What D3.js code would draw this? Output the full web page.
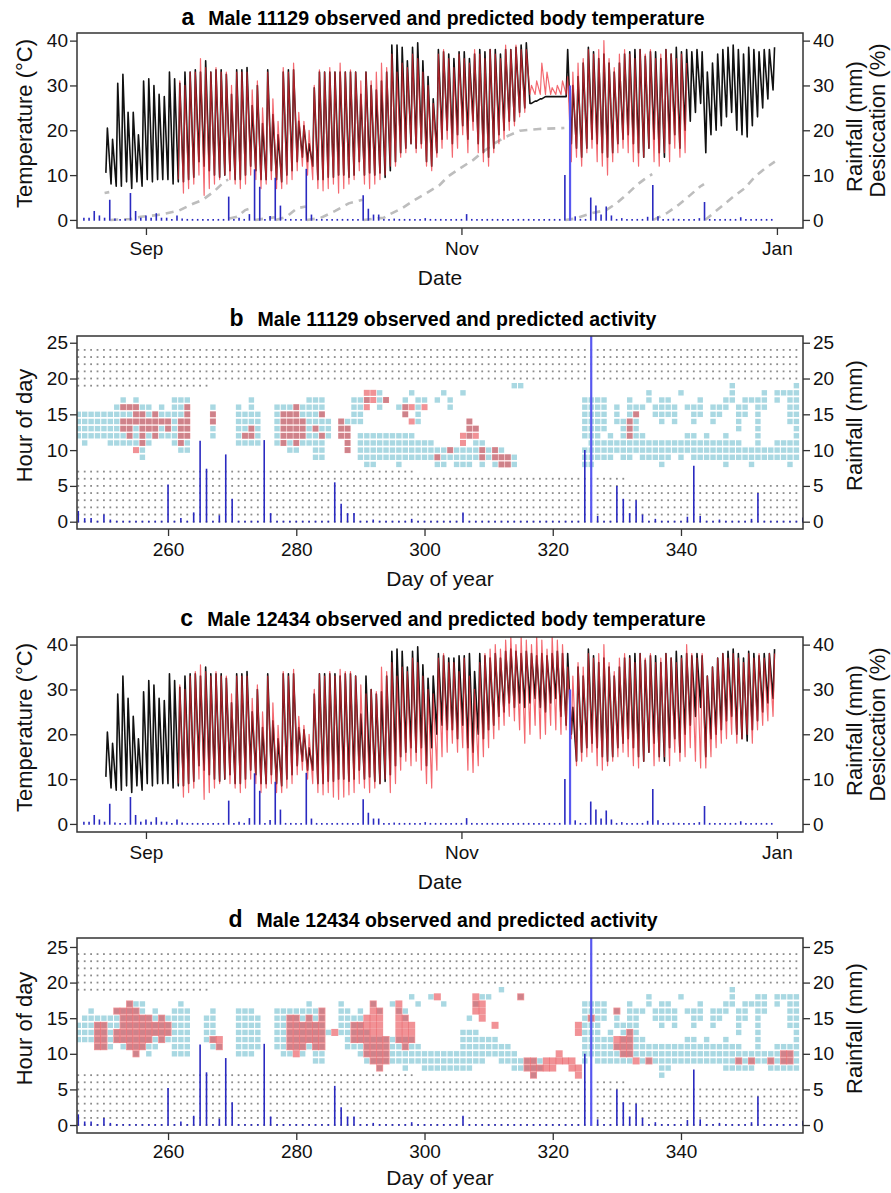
<!DOCTYPE html>
<html>
<head>
<meta charset="utf-8">
<script src="https://cdn.jsdelivr.net/npm/d3@7"></script>
<style>
body { margin: 0; background: #fff; }
svg { font-family: "Liberation Sans", Arial, sans-serif; }
</style>
</head>
<body>
<div id="chart"></div>
<script>
// ---- body temperature, one value per day from Aug 24 (day 236) to Dec 31 (day 365)
const tempStartDay = 236;

const obsMaxA = [20.5,18,30.5,32.5,24,24,19,31,31.5,30, 28,27.5,33,31.5,30.5,33,33,33.5,33,35.5,
  33,33.5,33.5,32.5,28,33.5,33.5,34,25.5,30, 21.5,33.5,23.5,19,33,33.5,33.5,22,21,17,
  29.5,33,33,33,33,33,33,33,33,28, 33,30,29,31,33,39,39,38.5,35.5,38.5,
  39.5,35.5,32,27,38,37.5,37,36,37.5,37.5, 36,37,38,37.5,38,38,37,38,38,38.5,
  39,39.5,26,26.5,27,27.5,27.5,27.5,27.5,38, 30,32,35,38.5,37.5,36,37,35,33,35,
  37,37.5,38,38,36.5,37.5,37.5,36,38,37, 38.5,37.5,38,37.5,38,37.5,33,35,37,38,
  38.5,39,38,37,38.5,38,37.5,38,38,38.5];
const obsMinA = [10.5,8,7.5,7.5,8.5,7,8.5,7.5,9,8.5, 9,9,9,8,8.5,8.5,9,9.5,13,12,
  11,10,9.5,10,11,9,9,10,12,11, 9,9,11,9,8.5,10,11,13,14,13,
  12,9,9,9.5,9.5,10,10,9.5,10,13, 10,10.5,10,10.5,9.5,11,13,15,16,17,
  16,17,13,12,15,18,20,17,19,21, 18,22,17,15,14,16,19,20,22,22,
  24,25,26,26.5,27,27.5,27.5,27.5,27.5,27.5, 17,16,14,16,18,17,15,14,15,17,
  18,19,17,15,14,16,18,15,14,17, 19,16,20,22,24,26,15,19,20,21,
  23,24,20,19,18.5,21,23,25,27,29];
const predMaxA = [null,null,null,null,null,null,null,null,null,null, null,null,null,null,31,30,33,33,36,34,
  33,34,33,33,30,33,33,33,29,31, 25,33,27,22,34,33,35,24,22,20,
  30,33.5,33,34,33,35,33,33.5,33,31, 33,31,33,35,34,37,33,35,34,37,
  36,33,30,26,37,38,36,34,37,36, 35,38,37,36,38,37,36,39,38,39,
  38,38,30,31,35,33,29.5,30,31,32, 33,35,36,38,37,38,40,36,34,37,
  38,37,36,38,37,38,36,37,38,37, 36,37,35];
const predMinA = [null,null,null,null,null,null,null,null,null,null, null,null,null,null,9,6,7,8,10,5.5,
  7,8,9,10,9,8,7,8,10,9, 7,8,9,7,7,8,9,11,12,10,
  9,7,6.5,7,8,6,7,8,9,11, 8,7,8,9,10,12,12,14,15,17,
  15,16,12,11,14,16,18,14,16,19, 15,20,15,13,12,15,17,18,20,21,
  23,24,28,28,28,28,28,28,28,28, 13,14,12,15,16,13,12,10,13,15,
  16,15,13,12,14,16,13,12,15,13, 16,14,15];

const obsMaxC = [20.5,18,29,33,28,24,19,29.5,32,31, 28,27.5,33.5,32,30.5,33,33.5,33.5,33,35,
  33.5,33.5,33.5,32.5,27,33.5,33.5,34,25,30, 21.5,33.5,23,19,33.5,33.5,33.5,21.5,21,17,
  29,33.5,33.5,33.5,33.5,33,33.5,33.5,33,24.5, 33,30,29,29.5,33,38.5,39,38.5,35,38.5,
  39.5,35.5,32.5,33,38,37.5,37,37,37.5,37.5, 38,34,38,37.5,37,38,37,38.5,39,38.5,
  38,38.5,38,37.5,38,37.5,38,38.5,38,38, 26,35,33,39,37.5,36,37,35,33,35,
  37,37.5,38,38,36.5,37.5,37.5,36,38,37, 38.5,37.5,38,37.5,38,37.5,33,35,37,38,
  38.5,39,38,37,38.5,38,37.5,38,38,39];
const obsMinC = [10.5,8,7.5,7.5,8.5,7,8.5,7.5,9,8.5, 9,9,9,8,8.5,8.5,9,9.5,13,12,
  11,10,9.5,10,11,9,9,10,12,11, 9,9,11,9,8.5,10,11,13,14,12,
  12,9,9,9.5,9.5,10,10,9.5,10,12, 10,10.5,9.5,9,9.5,11,13,15,16,17,
  16,17,13,17,20,22,21,21,19,22, 17,16,20,19,21,22,24,25,27,26,
  27,26,27,28,26,25,27,28,24,22, 20,14,16,17,18,17,15,14,15,17,
  18,19,17,15,14,16,18,15,14,17, 19,16,20,22,24,26,15,19,20,21,
  23,24,20,19,18.5,21,23,25,27,28];
const predMaxC = [null,null,null,null,null,null,null,null,null,null, null,null,null,null,31,30,33,34,35.5,34,
  33,34,33,33,29,33,33,33,28,31, 25,33,27,22,34,33,34.5,24,22,20,
  30,33.5,33,34,33,34.5,34,34,33,31, 29,30,29.5,35,34,36,33,35,34,37,
  36,33,30,29,37,38,36,36,34,37, 33,30,36,38,39,40,39,41,42,40,
  42,41,40,42,41,39,42,41,40,35, 33,36,35,38,37,38,40,36,34,37,
  38,37,36,38,37,38,36,37,38,37, 36,37,40,38,37,38,33,35,37,38,
  37,38,37,36,38,37,38,37,38,38];
const predMinC = [null,null,null,null,null,null,null,null,null,null, null,null,null,null,9,6,7,8,10,5.5,
  7,8,9,10,9,8,7,8,10,9, 7,8,9,7,7,8,9,11,12,10,
  9,7,6.5,7,6,5.5,6,6.5,7,9, 8,7,8,9,10,7,9,12,14,13,
  14,12,9,8,12,15,16,18,16,17, 12,11.5,13,15,17,19,21,22,24,23,
  21,18,20,22,19,20,22,21,20,21, 19,13,14,15,16,13,12,13,14,15,
  16,15,13,12.5,14,16,13,14,15,13, 16,14,15,17,14,12.5,12.5,15,17,18,
  19,20,18,19,20,18,21,22,23,24];

// ---- rainfall (mm) by day of year; other days from 232 to 365 had none
const rainDay = [232,233,234,235,236,237,238,241,242,243,244,245,246,247,248,250,251,260,262,264,265,266,268,269,270,
  275,276,286,287,288,289,292,298,306,325,326,327,330,331,332,333,334,336,341,342,343,346,351,352,359];
const rainMm = [0.5,0.5,2,1,0.5,4.5,0.3,6,2,0.5,1,0.5,1.5,0.5,0.5,1,0.3,5.2,0.5,1.3,11.3,7.4,0.9,9.4,3.2,
  11.4,1.2,5.5,2.5,1.2,1.2,0.3,0.4,1.3,10,30,0.8,5,3.2,1.2,3,1,0.4,0.7,7.8,0.8,0.3,0.4,4,0.6];
const rainFirstDay = 232, rainLastDay = 365;

// ---- desiccation (%) of male 11129, null marks a reset by rain
const desicDay = [236,236.9,237,237.1,241,243,246.3,250.2,253.1,255,257.3,259.2,259.9,260,260.1,261.6,263.2,264.9,265,
  265.1,267.8,268.9,269,269.1,271.2,273.2,274.9,275,275.1,277.7,280.6,283.2,285.9,286,286.1,290,291.2,293.5,296,298.3,
  300.8,302.4,304.7,307.3,309.2,311.4,313.7,316.3,320,324.9,325,325.1,327,330.2,333,335,336.9,338.9,341.1,341.9,342,
  342.1,344.7,346.9,348.9,351.1,351.9,352,352.1,353.7,355.6,357.6,359.8,361.8,363.7,365.6];
const desicPct = [6,6.2,null,0,0.2,0.7,1.1,2,3.6,4.5,6.5,8.6,9,null,0.3,0.7,2.2,2.8,null,
  0,0.4,0.6,null,0,0.7,2.6,3,null,0,0.4,2,3.7,4.5,null,0,0.5,1.3,2.6,4.5,6,
  7.8,9.7,11.5,13.4,15.2,17.1,18.6,19.9,20.3,20.5,null,0,0.3,1.5,2.2,3.7,5.6,7.8,9.7,10.2,null,
  0,1.5,3.3,5.2,7.4,8,null,0,1.5,3.3,5.2,7.1,9.7,11.5,13];

// ---- activity: active hours per day of year, from day 246 to 358
const actStartDay = 246;
const nightHours = [0,1,2,3,4,5,6,7,19,20,21,22,23,24];
const nightLastDay = [358,358,358,358,358,358,331,298,266,358,358,358,358,358];

const obsB = ["12-15","11-15","12-15","12-15","12-15","11-15","11-16","11-17","11-16","11-17",
  "9-16","11-16","12-15","12-16","12-15","11-17","10-17","10-17","","",
  "","12-16","","","","11-16","11-15","11-17","11-15","",
  "","11-16","11-16","10-16","10-16","11-16","11-17","9-17","9-17","12-14",
  "","12-14","10-14","14-17","9-12,14-17","8-12,17","8-12","9-12,16-18","9-12,17","9-12",
  "8-12,16","9-12,15-17","9-12,18","9-11,14-17","9-11,17","9-11","8-10,17","8-10,18","9-10,16-17","8-10",
  "8-10,18","8-10,12-14","9-11,13","8-11","9-10","8-10","8-10","8-9","8-9,19","19",
  "","","","","","","","","",
  "8-10,12-17","8-17","9-17","9-11,13-17","9-12","10-11,14-16","9-14","9-17","10-16","9-12,16",
  "9-11,17-18","9-11,15-16","8-11,14-17","9-11,15-17","10-11,14-16","9-11,18","10-12,16","9-12,14-16","9-11,15-17","9-12",
  "9-11,14-16","9-11,15-16","8-12,16-17","9-11,17-19","9-11,13-16","9-10,15-17","8-10,17","9-11,12-17","9-10,16-18","9-10",
  "9-11,17-18","9-11,18","8-11,14-18","9-11,12-19"];
const predBDay = [253,254,255,256,257,258,259,260,262,263,267,272,273,278,279,280,281,283,284,287,288,
  291,292,294,297,298,300,302,304,306,307,308,309,311,312,313,332,333];
const predBHrs = ["13-14,16","12-14,16","10,14-16","11-15","13-14","12-15","14","13-14","11-14","12-16","14-15","12","12-13",
  "11-15","12-15","11-16","12-14","13","12,15","12-14","10-13",
  "16-18","17-18","17","15-16","14,16","16","9","10","11-12","12-14","12-13","9-10","9-10","8-9","8-9","12-14","15"];

const obsD = ["12-14","12-15","12-16","11-15","11-15","11-15","12-16","11-16","11-17","10-17",
  "11-17","10-15","11-16","12-15","12-15","10-16","10-17","10-16","","",
  "12-15","11-16","11","","","10-16","10-16","10-16","11-15","",
  "","11-16","10-16","10-16","11-16","10-16","11-17","9-16","9-16","13",
  "","13-17","11-16","11-15","10-16","9-13","9-12,17","8-12,16","9-12","9-12,17",
  "9-12,16","8-12,15-16","9-12,18","9-11,17","8-10","8-10,18","8-10","8-10,17","8-10","8-10",
  "8-13","8-13,15","9-13,17","9-12,18","10-12,18","10-12","9-11,19","9-11","8-10","8-9,18",
  "8-9","7-9","8-9","","","","","","",
  "9-17","10-17","9-17","9-12,15-17","9-13","9-11,14-16","9-14","9-17","10-16","9-12,16",
  "9-11,17-18","9-11,15-16","7-11,14-17","8-11,15-17","9-11,14-16","9-11,18","9-12,16","9-12,14-16","9-11,15-17","9-12",
  "9-11,14-16","9-11,15-16","8-12,16-17","8-11,17-19","8-11,13-16","8-10,15-17","8-10,17","9-11,12-18","9-10,16-18","8-10",
  "8-11,17-18","8-11,18","8-11,14-18","8-11,12-18"];
const predDDay = [249,250,252,253,254,255,256,257,258,259,260,267,268,279,280,281,282,283,284,286,289,290,291,292,293,294,
  296,297,298,302,308,309,311,315,316,317,318,319,320,321,322,323,324,326,330,331,332,333,335,349,351,354,356,357];
const predDHrs = ["11-14","11-14","12-13,16","12-16","11-17","10-16","11-15","12-15","13-14","12-15","13-14","12","11-12",
  "11-15","10-15","11-14","12-15","11-14","11-16","13","12-14","12-14","10-15","9-17","8-16","9-12",
  "12-17","11-15","12-14","18","16-18","15-17","14","18","8-9","7-9","8","8-9","8-9","9-10","9","8-9","7-8,13-14",
  "15","11-12,16","10-12","10-13","9","9","9","9","9","9-10","9-10"];

// ---------------------------------------------------------------------
const W = 891, H = 1193;
const left = 77, right = 803;
const boxColor = "#333";

const svg = d3.select("#chart").append("svg")
  .attr("width", W)
  .attr("height", H);

function dayToDate(d) { return new Date(Date.UTC(2014, 0, 1) + (d - 1) * 864e5); }

function parseHours(s) {
  const out = [];
  if (!s) return out;
  s.split(",").forEach(part => {
    const [a, b] = part.split("-").map(Number);
    for (let h = a; h <= (b === undefined ? a : b); h++) out.push(h);
  });
  return out;
}

function dailyPoints(maxArr, minArr) {
  const pts = [];
  maxArr.forEach((mx, i) => {
    if (mx == null) return;
    const d0 = tempStartDay + i;
    pts.push({ t: dayToDate(d0 + 6 / 24), v: minArr[i] });
    pts.push({ t: dayToDate(d0 + 13 / 24), v: mx });
  });
  return pts;
}

function panelTitle(g, yBase, letter, text) {
  g.append("text")
    .attr("x", 443)
    .attr("y", yBase)
    .attr("text-anchor", "middle")
    .attr("font-weight", "bold")
    .call(t => {
      t.append("tspan").attr("font-size", 23).text(letter);
      t.append("tspan").attr("font-size", 19.5).attr("dx", 14).text(text);
    });
}

function styleAxis(sel) {
  sel.select(".domain").remove();
  sel.selectAll(".tick line").attr("stroke", boxColor).attr("stroke-width", 1.3);
  sel.selectAll(".tick text").attr("font-size", 19).attr("fill", "#111");
}

function yTitle(g, x, yc, text) {
  g.append("text")
    .attr("transform", "translate(" + x + "," + yc + ") rotate(-90)")
    .attr("text-anchor", "middle")
    .attr("font-size", 22)
    .attr("fill", "#111")
    .text(text);
}

function rainBars(g, x, y, clipId) {
  const rainData = d3.range(rainFirstDay, rainLastDay + 1).map(d => {
    const k = rainDay.indexOf(d);
    return { day: d, mm: k < 0 ? 0 : rainMm[k] };
  });
  g.append("g")
    .attr("clip-path", "url(#" + clipId + ")")
    .selectAll("line")
    .data(rainData)
    .join("line")
    .attr("x1", d => x(d.day))
    .attr("x2", d => x(d.day))
    .attr("y1", y(0) + 0.8)
    .attr("y2", d => Math.min(y(d.mm), y(0) - 1))
    .attr("stroke", d => d.mm > 20 ? "#5858f0" : "#2a2ac0")
    .attr("stroke-width", d => d.mm > 20 ? 2.2 : 1.6);
}

// ---- temperature panels (a, c)
function tempPanel(o) {
  const g = svg.append("g");
  const x = d3.scaleUtc()
    .domain([new Date(Date.UTC(2014, 7, 18, 16)), new Date(Date.UTC(2015, 0, 6, 1))])
    .range([left, right]);
  const xd = d => x(dayToDate(d));
  const y = d3.scaleLinear().domain([-1.8, 41.7]).range([o.bottom, o.top]);

  const clipId = "clip" + o.letter;
  svg.append("clipPath").attr("id", clipId)
    .append("rect").attr("x", left).attr("y", o.top).attr("width", right - left).attr("height", o.bottom - o.top);

  const line = d3.line().x(d => x(d.t)).y(d => y(d.v));
  const plot = g.append("g").attr("clip-path", "url(#" + clipId + ")");

  if (o.desic) {
    const dz = desicDay.map((d, i) => ({ day: d, v: desicPct[i] }));
    plot.append("path")
      .attr("d", d3.line().defined(d => d.v != null).x(d => xd(d.day)).y(d => y(d.v))(dz))
      .attr("fill", "none")
      .attr("stroke", "#bdbdbd")
      .attr("stroke-width", 2.6)
      .attr("stroke-dasharray", "8,6");
  }

  plot.append("path")
    .attr("d", line(dailyPoints(o.obsMax, o.obsMin)))
    .attr("fill", "none")
    .attr("stroke", "#111")
    .attr("stroke-width", 1.6)
    .attr("stroke-linejoin", "round");

  plot.append("path")
    .attr("d", line(dailyPoints(o.predMax, o.predMin)))
    .attr("fill", "none")
    .attr("stroke", "#ee2a33")
    .attr("stroke-width", 1.2)
    .attr("stroke-opacity", 0.7)
    .attr("stroke-linejoin", "round");

  rainBars(g, xd, y, clipId);

  // box
  g.append("rect")
    .attr("x", left).attr("y", o.top)
    .attr("width", right - left).attr("height", o.bottom - o.top)
    .attr("fill", "none").attr("stroke", boxColor).attr("stroke-width", 1.5);

  g.append("g").attr("transform", "translate(" + left + ",0)")
    .call(d3.axisLeft(y).tickValues([0, 10, 20, 30, 40]).tickSize(7).tickPadding(2))
    .call(styleAxis);
  g.append("g").attr("transform", "translate(" + right + ",0)")
    .call(d3.axisRight(y).tickValues([0, 10, 20, 30, 40]).tickSize(7).tickPadding(3))
    .call(styleAxis);
  g.append("g").attr("transform", "translate(0," + o.bottom + ")")
    .call(d3.axisBottom(x)
      .tickValues([new Date(Date.UTC(2014, 8, 1)), new Date(Date.UTC(2014, 10, 1)), new Date(Date.UTC(2015, 0, 1))])
      .tickFormat(d3.utcFormat("%b")).tickSize(7).tickPadding(7))
    .call(styleAxis);

  panelTitle(g, o.titleY, o.letter, o.title);
  g.append("text")
    .attr("x", 440).attr("y", o.bottom + 57)
    .attr("text-anchor", "middle").attr("font-size", 21).attr("fill", "#111")
    .text("Date");
  const yc = (o.top + o.bottom) / 2 - 7;
  yTitle(g, 32, yc, "Temperature (°C)");
  yTitle(g, 862, yc + 3, "Rainfall (mm)");
  yTitle(g, 885, yc - 3, "Desiccation (%)");
}

// ---- activity panels (b, d)
function actPanel(o) {
  const g = svg.append("g");
  const x = d3.scaleLinear().domain([245.8, 359.03]).range([left, right]);
  const y = d3.scaleLinear().domain(o.yDomain).range([o.bottom, o.top]);

  const clipId = "clip" + o.letter;
  svg.append("clipPath").attr("id", clipId)
    .append("rect").attr("x", left).attr("y", o.top).attr("width", right - left).attr("height", o.bottom - o.top);

  const obsCells = [];
  o.obs.forEach((s, i) => parseHours(s).forEach(h => obsCells.push({ day: actStartDay + i, h })));
  const predCells = [];
  o.predDay.forEach((d, i) => parseHours(o.predHrs[i]).forEach(h => predCells.push({ day: d, h })));
  const nightCells = [];
  nightHours.forEach((h, i) => {
    for (let d = actStartDay; d <= nightLastDay[i]; d++) nightCells.push({ day: d, h });
  });

  const plot = g.append("g").attr("clip-path", "url(#" + clipId + ")");
  const cs = o.cell;
  plot.append("g").selectAll("rect")
    .data(obsCells).join("rect")
    .attr("x", d => x(d.day) - cs / 2).attr("y", d => y(d.h) - cs / 2)
    .attr("width", cs).attr("height", cs)
    .attr("fill", "#a9d8e2");
  const ps = o.predCell;
  plot.append("g").selectAll("rect")
    .data(predCells).join("rect")
    .attr("x", d => x(d.day) - ps / 2).attr("y", d => y(d.h) - ps / 2)
    .attr("width", ps).attr("height", ps)
    .attr("fill", "#e84a50")
    .attr("fill-opacity", 0.6);
  plot.append("g").selectAll("rect")
    .data(nightCells).join("rect")
    .attr("x", d => x(d.day) - 0.9).attr("y", d => y(d.h) - 0.9)
    .attr("width", 1.8).attr("height", 1.8)
    .attr("fill", "#8c8c8c");

  rainBars(g, x, y, clipId);

  g.append("rect")
    .attr("x", left).attr("y", o.top)
    .attr("width", right - left).attr("height", o.bottom - o.top)
    .attr("fill", "none").attr("stroke", boxColor).attr("stroke-width", 1.5);

  const yt = [0, 5, 10, 15, 20, 25];
  g.append("g").attr("transform", "translate(" + left + ",0)")
    .call(d3.axisLeft(y).tickValues(yt).tickSize(7).tickPadding(2))
    .call(styleAxis);
  g.append("g").attr("transform", "translate(" + right + ",0)")
    .call(d3.axisRight(y).tickValues(yt).tickSize(7).tickPadding(3))
    .call(styleAxis);
  g.append("g").attr("transform", "translate(0," + o.bottom + ")")
    .call(d3.axisBottom(x).tickValues([260, 280, 300, 320, 340]).tickSize(7).tickPadding(o.tickPad))
    .call(styleAxis);

  panelTitle(g, o.titleY, o.letter, o.title);
  g.append("text")
    .attr("x", 440).attr("y", o.bottom + o.xTitleOff)
    .attr("text-anchor", "middle").attr("font-size", 21).attr("fill", "#111")
    .text("Day of year");
  const yc = (o.top + o.bottom) / 2 - 7;
  yTitle(g, 32, yc, "Hour of day");
  yTitle(g, 862, yc, "Rainfall (mm)");
}

tempPanel({ letter: "a", title: "Male 11129 observed and predicted body temperature", top: 33, bottom: 228, titleY: 25,
  obsMax: obsMaxA, obsMin: obsMinA, predMax: predMaxA, predMin: predMinA, desic: true });
actPanel({ letter: "b", title: "Male 11129 observed and predicted activity", top: 336, bottom: 529, titleY: 326,
  tickPad: 7, xTitleOff: 57,
  yDomain: [-1.02, 25.94], obs: obsB, predDay: predBDay, predHrs: predBHrs, cell: 5.4, predCell: 6 });
tempPanel({ letter: "c", title: "Male 12434 observed and predicted body temperature", top: 637, bottom: 832, titleY: 626,
  obsMax: obsMaxC, obsMin: obsMinC, predMax: predMaxC, predMin: predMinC, desic: false });
actPanel({ letter: "d", title: "Male 12434 observed and predicted activity", top: 938, bottom: 1133, titleY: 927,
  tickPad: 5, xTitleOff: 52,
  yDomain: [-1.12, 26.26], obs: obsD, predDay: predDDay, predHrs: predDHrs, cell: 5.4, predCell: 7 });
</script>
</body>
</html>
